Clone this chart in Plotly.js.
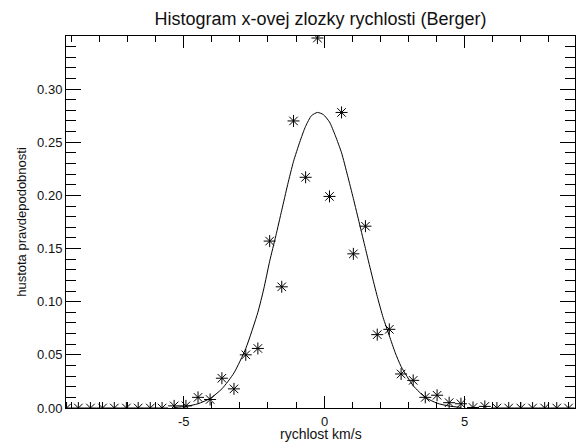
<!DOCTYPE html>
<html>
<head>
<meta charset="utf-8">
<script src="https://cdn.plot.ly/plotly-3.0.1.min.js"></script>
<style>
  html, body { margin: 0; padding: 0; background: #fff; }
  #chart { width: 576px; height: 442px; }
</style>
</head>
<body>
<div id="chart"></div>
<script>
// Histogram bin centres (km/s) and probability density
const binCenters = [-9.17,-8.75,-8.32,-7.89,-7.47,-7.04,-6.62,-6.19,-5.77,-5.34,-4.92,-4.49,-4.06,-3.64,-3.21,-2.79,-2.36,-1.94,-1.51,-1.09,-0.66,-0.24,0.19,0.62,1.04,1.47,1.89,2.32,2.74,3.17,3.60,4.02,4.45,4.87,5.30,5.72,6.15,6.57,7.00,7.42,7.85,8.28,8.70];
const density = [0,0,0,0,0,0,0,0,0,0.002,0.002,0.010,0.008,0.028,0.018,0.050,0.056,0.157,0.114,0.270,0.217,0.348,0.199,0.278,0.145,0.171,0.069,0.074,0.032,0.026,0.010,0.012,0.005,0.004,0.0005,0.0015,0,0,0,0,0,0,0];

// Fitted curve
const curveX = [-5.34,-4.92,-4.49,-4.06,-3.64,-3.21,-2.79,-2.36,-2.15,-1.94,-1.72,-1.51,-1.30,-1.09,-0.87,-0.66,-0.45,-0.24,-0.03,0.19,0.40,0.62,0.83,1.04,1.26,1.47,1.68,1.89,2.10,2.32,2.53,2.74,3.17,3.60,4.02,4.45,4.87];
const curveY = [0.0005,0.0015,0.004,0.009,0.018,0.033,0.056,0.090,0.112,0.138,0.162,0.186,0.210,0.232,0.250,0.265,0.275,0.278,0.276,0.269,0.256,0.240,0.219,0.197,0.173,0.150,0.127,0.105,0.085,0.068,0.052,0.039,0.021,0.010,0.0045,0.0018,0.0006];

const xTickVals = [-5, 0, 5];
const xTickText = ["-5", "0", "5"];

const titleText = "Histogram x-ovej zlozky rychlosti (Berger)";
const xTitle = "rychlost km/s";
const yTitle = "hustota pravdepodobnosti";

const FONT = "Liberation Sans, Arial, Helvetica, sans-serif";
const INK = "#111";

const traces = [
  {
    x: curveX, y: curveY, type: "scatter", mode: "lines",
    line: { color: "#000", width: 1, shape: "spline", smoothing: 0.6 }, hoverinfo: "skip"
  },
  {
    x: binCenters, y: density, type: "scatter", mode: "markers",
    marker: { symbol: "asterisk-open", size: 10, color: "#000", line: { color: "#000", width: 1 } },
    cliponaxis: true
  }
];

const axisCommon = {
  showgrid: false, zeroline: false,
  showline: true, linecolor: "#000", linewidth: 1,
  mirror: "allticks", ticks: "inside", tickcolor: "#000", tickwidth: 1,
  tickfont: { family: FONT, size: 13, color: INK }
};

// x tick labels placed under their ticks (data-x, paper-y)
const xLabelAnnotations = xTickVals.map((v, i) => ({
  text: xTickText[i], xref: "x", yref: "paper", x: v, y: -13 / 372,
  xanchor: "center", yanchor: "middle", showarrow: false,
  font: { family: FONT, size: 13, color: INK }
}));

const layout = {
  width: 576, height: 442,
  margin: { l: 66, r: 1, t: 36, b: 34, pad: 0 },
  paper_bgcolor: "#fff", plot_bgcolor: "#fff",
  showlegend: false,
  font: { family: FONT, color: INK },
  title: {
    text: titleText, font: { family: FONT, size: 18, color: INK },
    x: 0.5, xref: "paper", xanchor: "center",
    y: 1 - 19 / 442, yref: "container", yanchor: "middle"
  },
  xaxis: Object.assign({}, axisCommon, {
    range: [-9.19, 8.93],
    tickmode: "array", tickvals: xTickVals, ticktext: xTickText, ticklen: 12,
    showticklabels: false,
    minor: { tick0: 0, dtick: 1, ticks: "inside", ticklen: 6, tickcolor: "#000", tickwidth: 1, showgrid: false }
  }),
  yaxis: Object.assign({}, axisCommon, {
    range: [0, 0.3499],
    tickmode: "linear", tick0: 0, dtick: 0.05, tickformat: ".2f", ticklen: 15,
    minor: { tick0: 0, dtick: 0.01, ticks: "inside", ticklen: 10, tickcolor: "#000", tickwidth: 1, showgrid: false },
    title: { text: yTitle, font: { family: FONT, size: 13, color: INK }, standoff: 7 }
  }),
  annotations: xLabelAnnotations.concat([{
    text: xTitle, xref: "paper", yref: "paper", x: 0.5, y: -26 / 372,
    xanchor: "center", yanchor: "middle", showarrow: false,
    font: { family: FONT, size: 14, color: INK }
  }])
};

Plotly.newPlot("chart", traces, layout, { staticPlot: true, displayModeBar: false });
</script>
</body>
</html>
